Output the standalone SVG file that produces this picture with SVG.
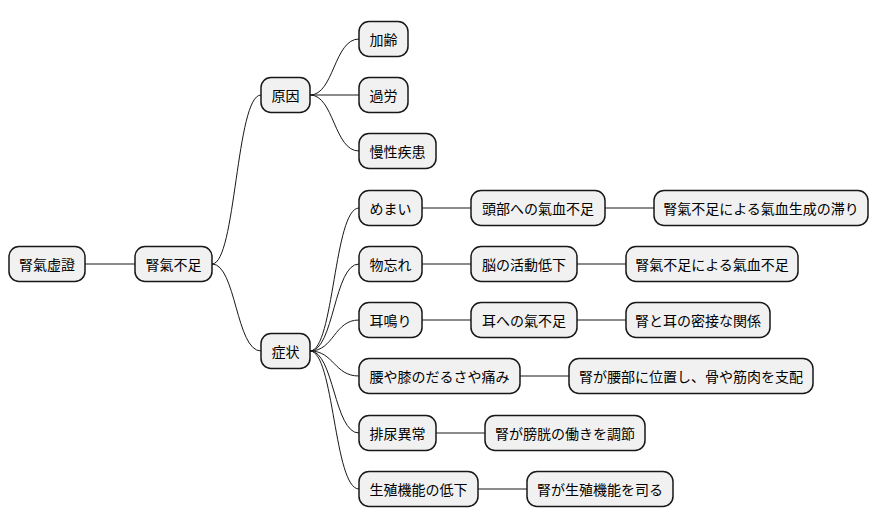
<svg xmlns="http://www.w3.org/2000/svg" width="880" height="527" viewBox="0 0 880 527">
<style>
.n rect{fill:#F1F1F1;stroke:#181818;stroke-width:1.5}
.n text{font-family:"Noto Sans CJK JP","Noto Sans CJK SC",sans-serif;font-size:14px;fill:#000;dominant-baseline:central}
#c path{fill:none;stroke:#181818;stroke-width:1}
</style>
<rect width="880" height="527" fill="#fff"/>
<g id="c">
<path d="M85,264 H135"/>
<path d="M212,264 C236,264 236,95 261,95"/>
<path d="M212,264 C236,264 236,351 261,351"/>
<path d="M310,95 C334,95 334,39 359,39"/>
<path d="M310,95 H359"/>
<path d="M310,95 C334,95 334,151 359,151"/>
<path d="M310,351 C334,351 334,208 359,208"/>
<path d="M310,351 C334,351 334,264 359,264"/>
<path d="M310,351 C334,351 334,320 359,320"/>
<path d="M310,351 C334,351 334,376 359,376"/>
<path d="M310,351 C334,351 334,433 359,433"/>
<path d="M310,351 C334,351 334,489 359,489"/>
<path d="M422,208 H471 M605,208 H654"/>
<path d="M422,264 H471 M577,264 H626"/>
<path d="M422,320 H471 M577,320 H626"/>
<path d="M520,376 H569"/>
<path d="M436,433 H485"/>
<path d="M478,489 H527"/>
</g>
<g id="n1" class="n"><rect x="9" y="246.5" width="76" height="35" rx="10"/><text x="47" y="264" text-anchor="middle">腎氣虚證</text></g>
<g id="n2" class="n"><rect x="135" y="246.5" width="77" height="35" rx="10"/><text x="173.5" y="264" text-anchor="middle">腎氣不足</text></g>
<g id="n3" class="n"><rect x="261" y="77.5" width="49" height="35" rx="10"/><text x="285.5" y="95" text-anchor="middle">原因</text></g>
<g id="n4" class="n"><rect x="261" y="333.5" width="49" height="35" rx="10"/><text x="285.5" y="351" text-anchor="middle">症状</text></g>
<g id="n5" class="n"><rect x="359" y="21.5" width="49" height="35" rx="10"/><text x="383.5" y="39" text-anchor="middle">加齢</text></g>
<g id="n6" class="n"><rect x="359" y="77.5" width="49" height="35" rx="10"/><text x="383.5" y="95" text-anchor="middle">過労</text></g>
<g id="n7" class="n"><rect x="359" y="133.5" width="77" height="35" rx="10"/><text x="397.5" y="151" text-anchor="middle">慢性疾患</text></g>
<g id="n8" class="n"><rect x="359" y="190.5" width="63" height="35" rx="10"/><text x="390.5" y="208" text-anchor="middle">めまい</text></g>
<g id="n9" class="n"><rect x="471" y="190.5" width="134" height="35" rx="10"/><text x="538" y="208" text-anchor="middle">頭部への氣血不足</text></g>
<g id="n10" class="n"><rect x="654" y="190.5" width="214" height="35" rx="10"/><text x="761" y="208" text-anchor="middle">腎氣不足による氣血生成の滞り</text></g>
<g id="n11" class="n"><rect x="359" y="246.5" width="63" height="35" rx="10"/><text x="390.5" y="264" text-anchor="middle">物忘れ</text></g>
<g id="n12" class="n"><rect x="471" y="246.5" width="106" height="35" rx="10"/><text x="524" y="264" text-anchor="middle">脳の活動低下</text></g>
<g id="n13" class="n"><rect x="626" y="246.5" width="172" height="35" rx="10"/><text x="712" y="264" text-anchor="middle">腎氣不足による氣血不足</text></g>
<g id="n14" class="n"><rect x="359" y="302.5" width="63" height="35" rx="10"/><text x="390.5" y="320" text-anchor="middle">耳鳴り</text></g>
<g id="n15" class="n"><rect x="471" y="302.5" width="106" height="35" rx="10"/><text x="524" y="320" text-anchor="middle">耳への氣不足</text></g>
<g id="n16" class="n"><rect x="626" y="302.5" width="144" height="35" rx="10"/><text x="698" y="320" text-anchor="middle">腎と耳の密接な関係</text></g>
<g id="n17" class="n"><rect x="359" y="358.5" width="161" height="35" rx="10"/><text x="439.5" y="376" text-anchor="middle">腰や膝のだるさや痛み</text></g>
<g id="n18" class="n"><rect x="569" y="358.5" width="244" height="35" rx="10"/><text x="691" y="376" text-anchor="middle">腎が腰部に位置し、骨や筋肉を支配</text></g>
<g id="n19" class="n"><rect x="359" y="415.5" width="77" height="35" rx="10"/><text x="397.5" y="433" text-anchor="middle">排尿異常</text></g>
<g id="n20" class="n"><rect x="485" y="415.5" width="160" height="35" rx="10"/><text x="565" y="433" text-anchor="middle">腎が膀胱の働きを調節</text></g>
<g id="n21" class="n"><rect x="359" y="471.5" width="119" height="35" rx="10"/><text x="418.5" y="489" text-anchor="middle">生殖機能の低下</text></g>
<g id="n22" class="n"><rect x="527" y="471.5" width="146" height="35" rx="10"/><text x="600" y="489" text-anchor="middle">腎が生殖機能を司る</text></g>
</svg>
